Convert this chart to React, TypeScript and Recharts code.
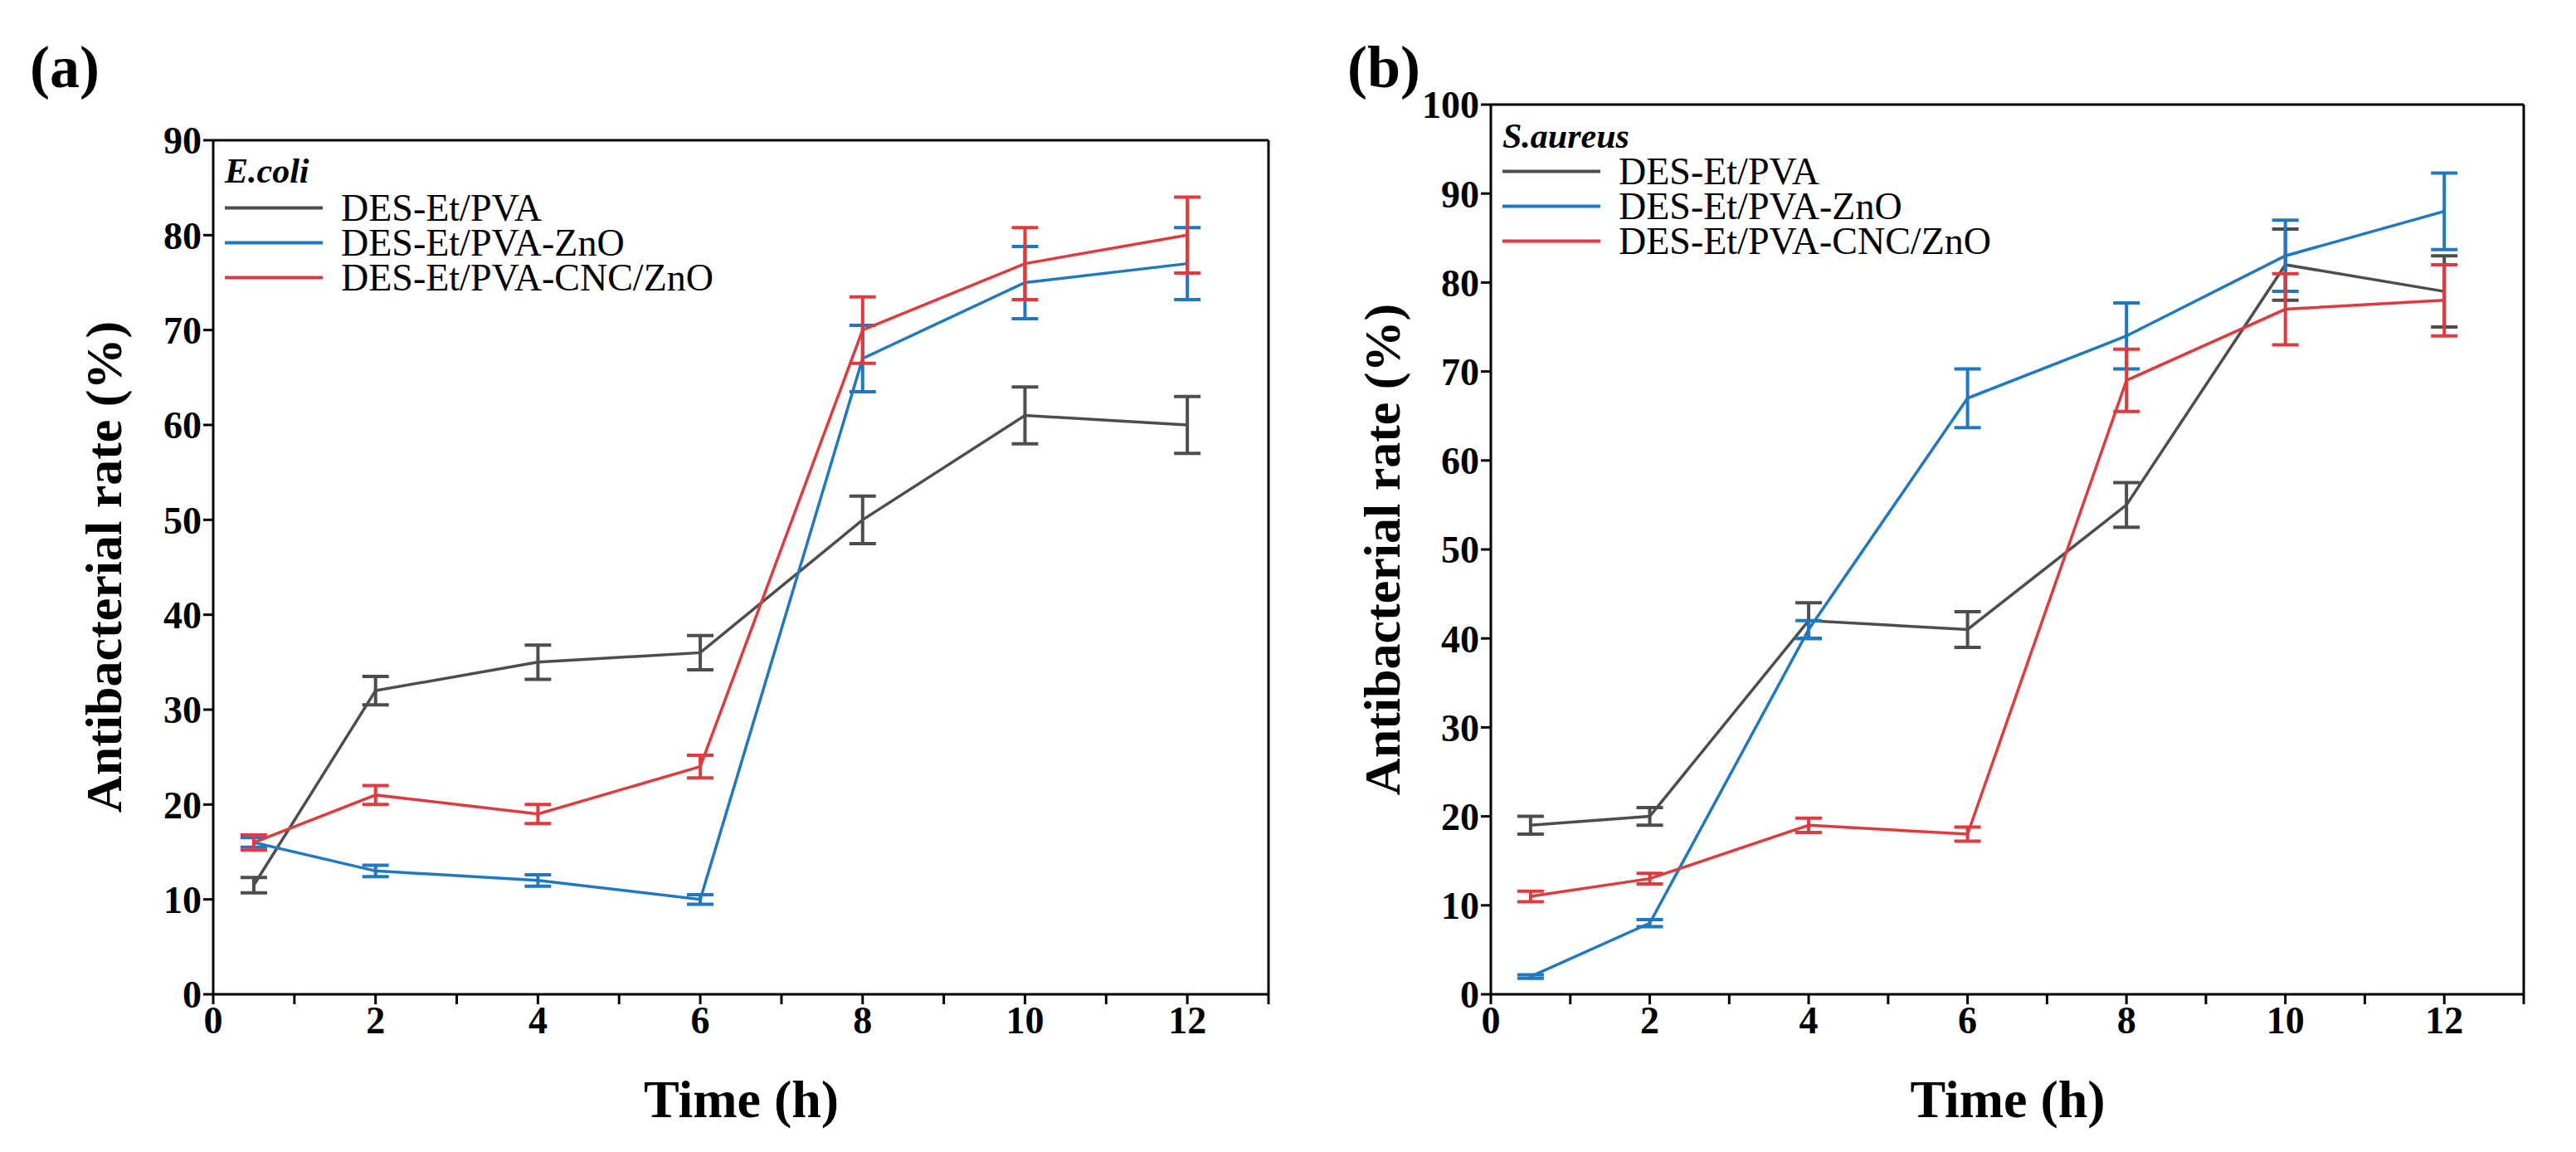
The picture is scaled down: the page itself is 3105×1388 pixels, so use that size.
import { LineChart, Line, XAxis, YAxis, ErrorBar } from 'recharts';

const times = [0.5, 2, 4, 6, 8, 10, 12];
const seriesNames = ['DES-Et/PVA', 'DES-Et/PVA-ZnO', 'DES-Et/PVA-CNC/ZnO'];
const colors = ['#4d4d4d', '#1f78c1', '#e03a3e'];

const ecoliPva = [11.5, 32, 35, 36, 50, 61, 60];
const ecoliPvaErr = [0.8, 1.5, 1.8, 1.8, 2.5, 3, 3];
const ecoliZnO = [16, 13, 12, 10, 67, 75, 77];
const ecoliZnOErr = [0.5, 0.6, 0.6, 0.5, 3.5, 3.8, 3.8];
const ecoliCnc = [16, 21, 19, 24, 70, 77, 80];
const ecoliCncErr = [0.8, 1, 1, 1.2, 3.5, 3.8, 4];

const saurPva = [19, 20, 42, 41, 55, 82, 79];
const saurPvaErr = [1, 1, 2, 2, 2.5, 4, 4];
const saurZnO = [2, 8, 41, 67, 74, 83, 88];
const saurZnOErr = [0.2, 0.4, 1, 3.3, 3.7, 4, 4.3];
const saurCnc = [11, 13, 19, 18, 69, 77, 78];
const saurCncErr = [0.6, 0.6, 0.8, 0.8, 3.5, 4, 4];

const xTicks = [0, 1, 2, 3, 4, 5, 6, 7, 8, 9, 10, 11, 12, 13];
const ecoliYTicks = [0, 10, 20, 30, 40, 50, 60, 70, 80, 90];
const saurYTicks = [0, 10, 20, 30, 40, 50, 60, 70, 80, 90, 100];

const FONT = '"Liberation Serif", "DejaVu Serif", serif';

const build = (v: number[], e: number[]) => times.map((t, i) => ({ t, v: v[i], e: e[i] }));

interface PanelProps {
  left: number;
  width: number;
  margin: { top: number; right: number; bottom: number; left: number };
  yTicks: number[];
  series: { v: number[]; e: number[] }[];
  tag: string;
  species: string;
  speciesY: number;
  legendY: number[];
  tagX: number;
  yLabelX: number;
}

function Panel(p: PanelProps) {
  const H = 1388;
  const plotLeft = p.margin.left + 120;
  const plotRight = p.width - p.margin.right;
  const tickStyle = { fontSize: 46, fontWeight: 700, fill: '#000', fontFamily: FONT };
  return (
    <div style={{ position: 'absolute', left: p.left, top: 0, width: p.width, height: H, fontFamily: FONT }}>
      <LineChart width={p.width} height={H} margin={p.margin}>
        <XAxis type="number" dataKey="t" domain={[0, 13]} ticks={xTicks} interval={0}
          tickFormatter={(v: number) => (v % 2 === 0 ? String(v) : '')}
          tick={tickStyle} tickSize={12} height={100} stroke="#000" strokeWidth={3}
          allowDuplicatedCategory={false} />
        <XAxis xAxisId="top" orientation="top" type="number" domain={[0, 13]} tick={false}
          tickLine={false} height={1} stroke="#000" strokeWidth={3} />
        <YAxis type="number" domain={[0, p.yTicks[p.yTicks.length - 1]]} ticks={p.yTicks}
          interval={0} tick={tickStyle} tickSize={12} width={120} stroke="#000" strokeWidth={3} />
        <YAxis yAxisId="right" orientation="right" type="number" domain={[0, 1]} tick={false}
          tickLine={false} width={1} stroke="#000" strokeWidth={3} />
        {p.series.map((s, i) => (
          <Line key={i} data={build(s.v, s.e)} dataKey="v" stroke={colors[i]} strokeWidth={3.5}
            dot={false} isAnimationActive={false}>
            <ErrorBar dataKey="e" width={16} stroke={colors[i]} strokeWidth={4} direction="y" />
          </Line>
        ))}
      </LineChart>
      <div style={{ position: 'absolute', left: p.tagX, top: 40, fontSize: 72, fontWeight: 700 }}>{p.tag}</div>
      <div style={{ position: 'absolute', left: p.yLabelX, top: (p.margin.top + H - p.margin.bottom - 100) / 2,
        transform: 'translate(-50%, -50%) rotate(-90deg)', fontSize: 62, fontWeight: 700, whiteSpace: 'nowrap' }}>
        Antibacterial rate (%)
      </div>
      <div style={{ position: 'absolute', left: (plotLeft + plotRight) / 2, top: 1325,
        transform: 'translate(-50%, -50%)', fontSize: 64, fontWeight: 700, whiteSpace: 'nowrap' }}>
        Time (h)
      </div>
      <div style={{ position: 'absolute', left: plotLeft + 14, top: p.speciesY,
        transform: 'translateY(-50%)', fontSize: 42, fontWeight: 700, fontStyle: 'italic' }}>
        {p.species}
      </div>
      {seriesNames.map((n, i) => (
        <div key={n} style={{ position: 'absolute', left: plotLeft + 14, top: p.legendY[i],
          transform: 'translateY(-50%)', display: 'flex', alignItems: 'center', fontSize: 46 }}>
          <div style={{ width: 118, height: 4, background: colors[i], marginRight: 22 }} />
          <span>{n}</span>
        </div>
      ))}
    </div>
  );
}

export default function App() {
  return (
    <div style={{ position: 'absolute', left: 0, top: 0, width: 3105, height: 1388, background: '#fff' }}>
      <Panel left={0} width={1550} margin={{ top: 168, right: 20, bottom: 90, left: 137 }}
        yTicks={ecoliYTicks} tag="(a)" species="E.coli" speciesY={206} legendY={[250, 292, 334]}
        tagX={36} yLabelX={125}
        series={[{ v: ecoliPva, e: ecoliPvaErr }, { v: ecoliZnO, e: ecoliZnOErr }, { v: ecoliCnc, e: ecoliCncErr }]} />
      <Panel left={1550} width={1555} margin={{ top: 125, right: 62, bottom: 90, left: 127 }}
        yTicks={saurYTicks} tag="(b)" species="S.aureus" speciesY={164} legendY={[206, 248, 290]}
        tagX={74} yLabelX={116}
        series={[{ v: saurPva, e: saurPvaErr }, { v: saurZnO, e: saurZnOErr }, { v: saurCnc, e: saurCncErr }]} />
    </div>
  );
}
